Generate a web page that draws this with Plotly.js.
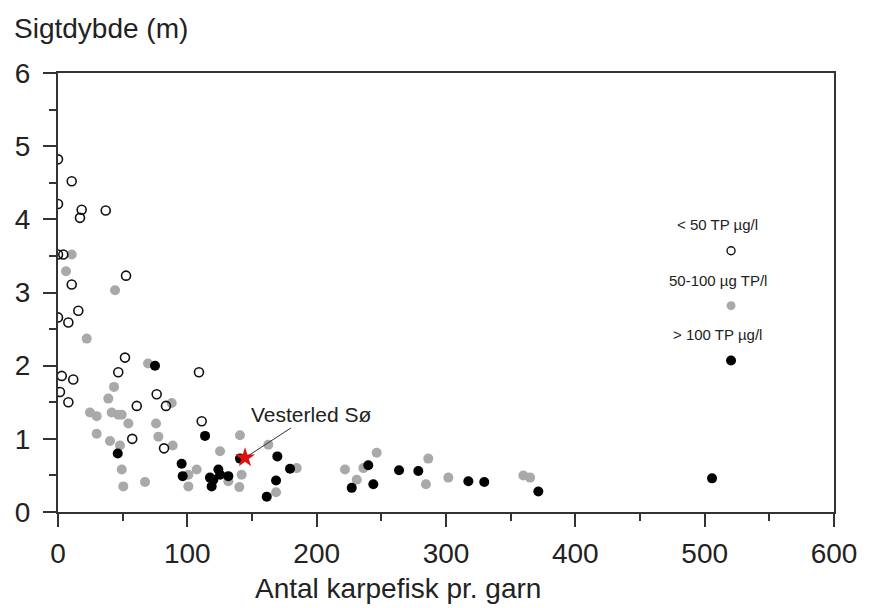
<!DOCTYPE html>
<html>
<head>
<meta charset="utf-8">
<script src="https://cdn.plot.ly/plotly-3.0.1.min.js"></script>
<style>html,body{margin:0;padding:0;background:#fff;}#chart{width:873px;height:608px;}</style>
</head>
<body>
<div id="chart"></div>
<script>
// < 50 TP µg/l (open circles)
const lowX = [0, 10.6, 0, 18.3, 17.0, 36.9, 0, 4.1, 52.6, 10.6, 15.7, 0, 8.0, 51.8, 46.6, 2.9, 11.8, 1.5, 8.0, 76.3, 60.9, 83.5, 111.1, 57.4, 82, 109];
const lowY = [4.82, 4.52, 4.21, 4.13, 4.02, 4.12, 3.52, 3.52, 3.23, 3.11, 2.75, 2.66, 2.59, 2.11, 1.91, 1.86, 1.81, 1.64, 1.50, 1.61, 1.45, 1.45, 1.24, 1.00, 0.87, 1.91];
// 50-100 µg TP/l (grey)
const midX = [10.6, 6.2, 44.1, 22.2, 69.6, 43.3, 38.9, 24.7, 29.9, 41.5, 46.6, 49.3, 54.4, 87.9, 75.8, 29.9, 40.2, 77.6, 47.9, 88.7, 49.3, 107.2, 100.8, 50.5, 67.3, 140.7, 125.3, 100.8, 142, 131.7, 184.6, 140.2, 168.6, 162.6, 221.9, 236.1, 246.4, 231, 286.3, 284.5, 301.8, 359.8, 365];
const midY = [3.52, 3.29, 3.03, 2.37, 2.03, 1.71, 1.55, 1.36, 1.31, 1.36, 1.33, 1.33, 1.21, 1.49, 1.21, 1.07, 0.97, 1.03, 0.91, 0.91, 0.58, 0.58, 0.35, 0.35, 0.41, 1.05, 0.83, 0.51, 0.51, 0.42, 0.60, 0.34, 0.27, 0.92, 0.58, 0.60, 0.81, 0.44, 0.73, 0.38, 0.47, 0.50, 0.47];
// > 100 TP µg/l (black)
const highX = [75, 46.2, 95.6, 96.4, 113.7, 140.7, 169.6, 124, 117.5, 120.1, 118.8, 125.3, 131.7, 179.4, 168.6, 161.4, 239.9, 227.1, 243.8, 263.7, 278.6, 317.3, 329.6, 371.4, 505.7];
const highY = [2.00, 0.80, 0.66, 0.49, 1.04, 0.73, 0.76, 0.58, 0.47, 0.44, 0.35, 0.51, 0.49, 0.59, 0.43, 0.21, 0.64, 0.33, 0.38, 0.57, 0.56, 0.42, 0.41, 0.28, 0.46];
// Vesterled Sø
const lakeX = [144.6];
const lakeY = [0.74];
const lakeName = "Vesterled Sø";
// Legend labels
const legendLabels = ["< 50 TP µg/l", "50-100 µg TP/l", "> 100 TP µg/l"];
const legendKeyX = [520.4, 520.4, 520.4];
const legendKeyY = [3.57, 2.82, 2.07];
const xTicks = [0, 100, 200, 300, 400, 500, 600];
const yTicks = [0, 1, 2, 3, 4, 5, 6];

const GREY = '#a9a9a9';
const FONT = 'Liberation Sans, Arial, sans-serif';
const openMarker = {symbol: 'circle-open', size: 9, color: '#111', line: {width: 1.6, color: '#111'}};
const greyMarker = {symbol: 'circle', size: 10, color: GREY};
const blackMarker = {symbol: 'circle', size: 10, color: '#000'};
const traces = [
  {x: midX, y: midY, type: 'scatter', mode: 'markers', marker: greyMarker, hoverinfo: 'none'},
  {x: lowX, y: lowY, type: 'scatter', mode: 'markers', marker: openMarker, hoverinfo: 'none'},
  {x: highX, y: highY, type: 'scatter', mode: 'markers', marker: blackMarker, hoverinfo: 'none'},
  {x: lakeX, y: lakeY, type: 'scatter', mode: 'markers', marker: {symbol: 'star', size: 15, color: '#e01010', line: {width: 0}}, hoverinfo: 'none'},
  {x: [legendKeyX[0]], y: [legendKeyY[0]], type: 'scatter', mode: 'markers', marker: {symbol: 'circle-open', size: 8, color: '#111', line: {width: 1.4, color: '#111'}}, hoverinfo: 'none'},
  {x: [legendKeyX[1]], y: [legendKeyY[1]], type: 'scatter', mode: 'markers', marker: {symbol: 'circle', size: 9, color: GREY}, hoverinfo: 'none'},
  {x: [legendKeyX[2]], y: [legendKeyY[2]], type: 'scatter', mode: 'markers', marker: {symbol: 'circle', size: 10, color: '#000'}, hoverinfo: 'none'}
];

const annots = [
  {x: lakeX[0], y: lakeY[0], xref: 'x', yref: 'y', text: lakeName, showarrow: true, arrowhead: 0, arrowwidth: 1, arrowcolor: '#333',
   ax: 66, ay: -43, standoff: 4, font: {family: FONT, size: 21, color: '#222'}},
  {xref: 'paper', yref: 'paper', x: (398 - 58) / 776, y: -(589 - 512.5) / 439.2, xanchor: 'center', yanchor: 'middle', showarrow: false,
   text: 'Antal karpefisk pr. garn', font: {family: FONT, size: 28, color: '#222'}}
];
const legendTextY = [3.93, 3.17, 2.42];
legendLabels.forEach((t, i) => {
  annots.push({x: 510, y: legendTextY[i], xref: 'x', yref: 'y', text: t, showarrow: false, xanchor: 'center', yanchor: 'middle',
    font: {family: FONT, size: 15, color: '#222'}});
});

const axisFont = {family: FONT, size: 28, color: '#222'};
const layout = {
  width: 873, height: 608,
  margin: {l: 58, r: 39, t: 73, b: 96},
  paper_bgcolor: '#fff', plot_bgcolor: '#fff',
  showlegend: false,
  title: {text: 'Sigtdybde (m)', x: 14 / 873, xref: 'container', xanchor: 'left', y: 1 - 28 / 608, yref: 'container', yanchor: 'middle',
    font: {family: FONT, size: 28, color: '#222', weight: 'normal'}},
  xaxis: {range: [0, 600], tickvals: xTicks, ticks: 'outside', ticklen: 13, tickwidth: 2, tickcolor: '#333',
    showline: true, linecolor: '#333', linewidth: 2, mirror: true, showgrid: false, zeroline: false,
    tickfont: axisFont, ticklabelstandoff: 2,
    minor: {dtick: 50, tick0: 0, ticks: 'outside', ticklen: 7, tickwidth: 2, tickcolor: '#333', showgrid: false}},
  yaxis: {range: [0, 6], tickvals: yTicks, ticks: 'outside', ticklen: 13, tickwidth: 2, tickcolor: '#333',
    showline: true, linecolor: '#333', linewidth: 2, mirror: true, showgrid: false, zeroline: false,
    tickfont: axisFont, ticklabelstandoff: 7,
    minor: {dtick: 0.5, tick0: 0, ticks: 'outside', ticklen: 7, tickwidth: 2, tickcolor: '#333', showgrid: false}},
  annotations: annots
};
Plotly.newPlot('chart', traces, layout, {displayModeBar: false, staticPlot: true});
</script>
</body>
</html>
